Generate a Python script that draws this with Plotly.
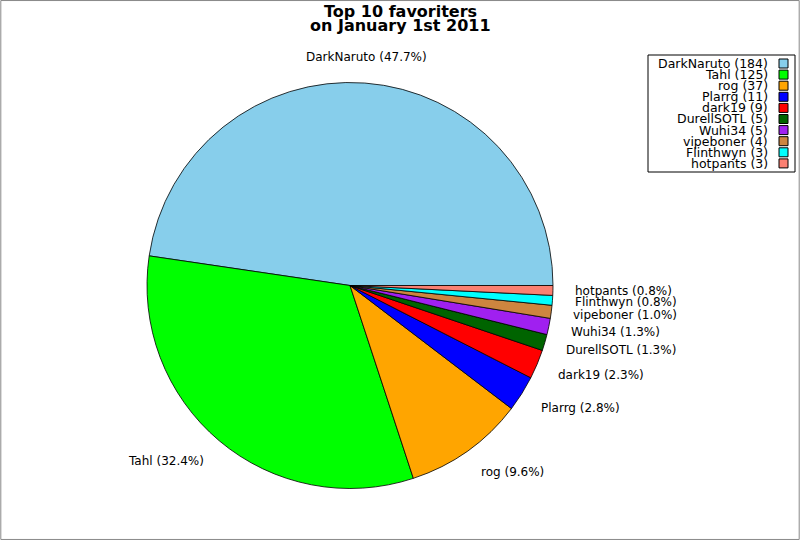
import math

import plotly.graph_objects as go

names = ["DarkNaruto", "Tahl", "rog", "Plarrg", "dark19", "DurellSOTL",
         "Wuhi34", "vipeboner", "Flinthwyn", "hotpants"]
counts = [184, 125, 37, 11, 9, 5, 5, 4, 3, 3]
colors = ["#87CEEB", "#00FF00", "#FFA500", "#0000FF", "#FF0000", "#006400",
          "#A020F0", "#CD853F", "#00FFFF", "#FA8072"]
title_lines = ["Top 10 favoriters", "on January 1st 2011"]

W, H = 800, 540
CX, CY, R = 350, 285.5, 203  # pie centre / radius in pixels (from top)
FONT = "DejaVu Sans"

total = sum(counts)
# plotly puts the end of the first slice at `rotation` when going
# counterclockwise, so shift it to start the first slice at 3 o'clock
rot = 90 - 360 * counts[0] / total

fig = go.Figure(go.Pie(
    labels=names,
    values=counts,
    sort=False,
    direction="counterclockwise",
    rotation=rot,
    marker=dict(colors=colors, line=dict(color="black", width=0.8)),
    textinfo="none",
    hoverinfo="label+value+percent",
    showlegend=False,
    domain=dict(x=[(CX - R) / W, (CX + R) / W],
                y=[(H - CY - R) / H, (H - CY + R) / H]),
))

# slice labels at 1.1 * radius from the slice middle, pushed out a bit
# vertically so the text box sits outside the circle
annotations = []
start = 0.0
for name, c in zip(names, counts):
    frac = c / total
    mid = math.radians((start + frac / 2) * 360)
    start += frac
    cos_m, sin_m = math.cos(mid), math.sin(mid)
    x = CX + 1.1 * R * cos_m
    y = (H - CY) + 1.1 * R * sin_m
    if abs(cos_m) < 0.1:
        anchor = "center"
    else:
        anchor = "left" if cos_m > 0 else "right"
    annotations.append(dict(
        x=x / W, y=y / H, xref="paper", yref="paper",
        text=f"{name} ({frac * 100:.1f}%)", showarrow=False,
        xanchor=anchor, yanchor="middle", yshift=6 * sin_m,
        font=dict(family=FONT, size=12, color="black"),
    ))

# legend: text right aligned, colour box on the right
shapes = [
    dict(type="rect", xref="paper", yref="paper", x0=0.001, x1=0.999,
         y0=0.001, y1=0.999, line=dict(color="#888888", width=1)),
    dict(type="rect", xref="paper", yref="paper",
         x0=648 / W, x1=795 / W, y0=(H - 55) / H, y1=(H - 172) / H,
         line=dict(color="black", width=1), fillcolor="white"),
]
row_h = 11.1
for i, (name, c, col) in enumerate(zip(names, counts, colors)):
    yc = 63.5 + i * row_h
    annotations.append(dict(
        x=770 / W, y=(H - yc) / H, xref="paper", yref="paper",
        text=f"{name} ({c})", showarrow=False,
        xanchor="right", yanchor="middle",
        font=dict(family=FONT, size=12.5, color="black"),
    ))
    shapes.append(dict(
        type="rect", xref="paper", yref="paper",
        x0=779 / W, x1=788 / W, y0=(H - yc - 4.5) / H, y1=(H - yc + 4.5) / H,
        line=dict(color="black", width=1), fillcolor=col,
    ))

for i, line in enumerate(title_lines):
    annotations.append(dict(
        x=0.5, y=(H - 11 - i * 14.5) / H, xref="paper", yref="paper",
        text=f"<b>{line}</b>", showarrow=False,
        xanchor="center", yanchor="middle",
        font=dict(family=FONT, size=16, color="black"),
    ))

fig.update_layout(
    width=W, height=H,
    margin=dict(l=0, r=0, t=0, b=0),
    paper_bgcolor="white",
    annotations=annotations,
    shapes=shapes,
)

fig.write_html("out.html", config={"displayModeBar": False},
               post_script="document.body.style.margin='0';")
